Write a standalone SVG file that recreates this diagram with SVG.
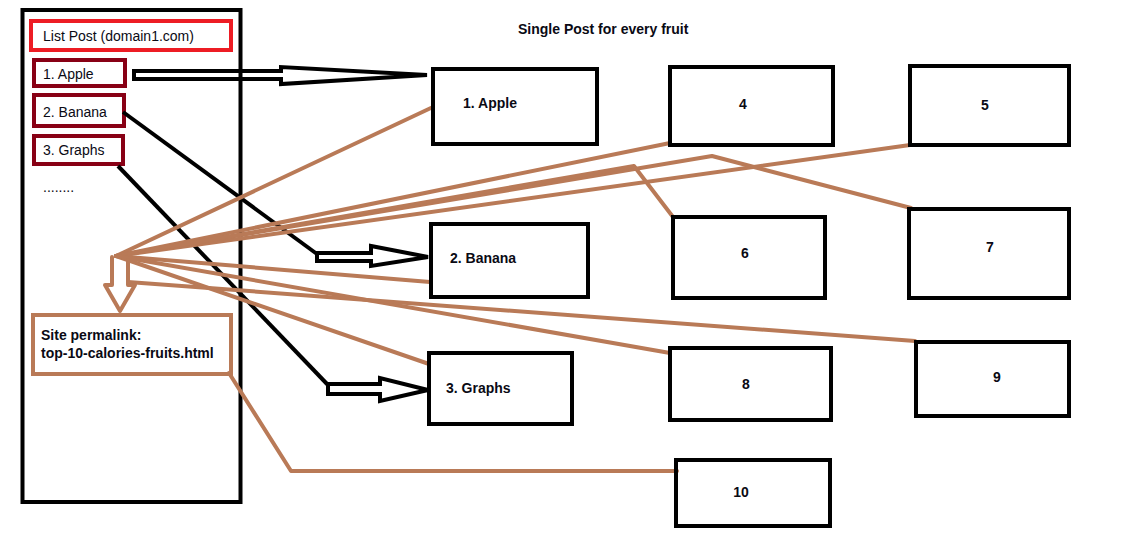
<svg xmlns="http://www.w3.org/2000/svg" width="1122" height="543" viewBox="0 0 1122 543">
<style>
.bg{fill:#fff}
.box{fill:none;stroke:#000;stroke-width:4}
.red{fill:none;stroke:#ed1c24;stroke-width:4}
.dred{fill:none;stroke:#880015;stroke-width:4}
.brown{fill:none;stroke:#b97a57;stroke-width:4;stroke-linejoin:round;stroke-linecap:round}
.blk{fill:none;stroke:#000;stroke-width:4;stroke-linejoin:miter}
.t{font-family:"Liberation Sans",Arial,sans-serif;font-size:14px;fill:#0a0a14}
.b{font-family:"Liberation Sans",Arial,sans-serif;font-size:14px;font-weight:bold;fill:#0a0a14}
.m{text-anchor:middle}
</style>
<rect class="bg" x="0" y="0" width="1122" height="543"/>
<text class="b" x="518" y="34">Single Post for every fruit</text>
<g id="list-panel">
<rect class="box" x="22.5" y="10" width="218" height="492"/>
</g>
<g id="list-title">
<rect class="red" x="31" y="21" width="200" height="29"/>
<text class="t" x="43" y="41">List Post (domain1.com)</text>
</g>
<g id="list-apple">
<rect class="dred" x="34" y="60" width="91" height="26"/>
<text class="t" x="43" y="79">1. Apple</text>
</g>
<g id="list-banana">
<rect class="dred" x="34" y="95" width="90" height="31"/>
<text class="t" x="43" y="117">2. Banana</text>
</g>
<g id="list-graphs">
<rect class="dred" x="34" y="136" width="89" height="28"/>
<text class="t" x="43" y="155">3. Graphs</text>
</g>
<g id="list-more">
<text class="t" x="43" y="192">........</text>
</g>
<g id="connectors">
<path class="blk" d="M134,71 L281,71 L281,67 L427,75 L281,84 L281,79 L134,79 Z"/>
<path class="blk" d="M123,112 L317,254"/>
<path class="blk" d="M317,253 L371,253 L371,246 L428,257 L371,266 L371,261 L317,261 Z"/>
<path class="blk" d="M118,166 L328,385"/>
<path class="blk" d="M328,384 L380,384 L380,378 L428,390 L380,401 L380,394 L328,394 Z"/>
<path class="brown" d="M116,256 L433,107"/>
<path class="brown" d="M116,256 L670,143"/>
<path class="brown" d="M116,256 L910,145"/>
<path class="brown" d="M116,256 L712,156 L911,208"/>
<path class="brown" d="M116,256 L634,166 L673,217"/>
<path class="brown" d="M116,256 L430,282"/>
<path class="brown" d="M116,256 L429,364"/>
<path class="brown" d="M116,256 L670,353"/>
<path class="brown" d="M128,282 L915,341"/>
<path class="brown" d="M229,373 L291,471 L677,471"/>
<path class="brown" d="M112,257 L112,285 L105,285 L120,311 L135,285 L128,285 L128,260"/>
</g>
<g id="permalink">
<rect class="brown" x="33" y="315" width="198" height="59" style="stroke-linecap:butt;stroke-linejoin:miter"/>
<text class="b" x="41" y="340">Site permalink:</text>
<text class="b" x="41" y="358">top-10-calories-fruits.html</text>
</g>
<g id="node-apple">
<rect class="box" x="433" y="69" width="164" height="75"/>
<text class="b" x="463" y="108">1. Apple</text>
</g>
<g id="node-4">
<rect class="box" x="670" y="67" width="163" height="78"/>
<text class="b m" x="743" y="109">4</text>
</g>
<g id="node-5">
<rect class="box" x="910" y="66" width="159" height="79"/>
<text class="b m" x="985" y="110">5</text>
</g>
<g id="node-banana">
<rect class="box" x="431" y="224" width="157" height="73"/>
<text class="b" x="450" y="263">2. Banana</text>
</g>
<g id="node-6">
<rect class="box" x="673" y="217" width="152" height="81"/>
<text class="b m" x="745" y="258">6</text>
</g>
<g id="node-7">
<rect class="box" x="909" y="209" width="160" height="89"/>
<text class="b m" x="990" y="252">7</text>
</g>
<g id="node-graphs">
<rect class="box" x="429" y="353" width="143" height="71"/>
<text class="b" x="446" y="393">3. Graphs</text>
</g>
<g id="node-8">
<rect class="box" x="670" y="348" width="161" height="72"/>
<text class="b m" x="746" y="389">8</text>
</g>
<g id="node-9">
<rect class="box" x="916" y="342" width="153" height="74"/>
<text class="b m" x="997" y="382">9</text>
</g>
<g id="node-10">
<rect class="box" x="676" y="460" width="154" height="66"/>
<text class="b m" x="741" y="497">10</text>
</g>
</svg>
